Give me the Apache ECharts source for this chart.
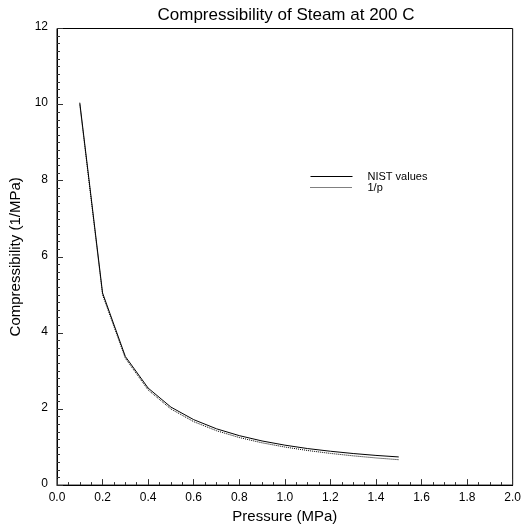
<!DOCTYPE html>
<html><head><meta charset="utf-8">
<script src="https://cdn.jsdelivr.net/npm/echarts@6/dist/echarts.min.js"></script>
<style>html,body{margin:0;padding:0;background:#fff}#c{width:524px;height:529px}</style>
</head><body><div id="c"></div>
<script>
const pressure = [0.1,0.2,0.3,0.4,0.5,0.6,0.7,0.8,0.9,1.0,1.1,1.2,1.3,1.4,1.5];
const nistValues = [10.05,5.05,3.38,2.55,2.05,1.72,1.48,1.30,1.16,1.05,0.96,0.89,0.83,0.78,0.74];
const inverseP = [10.0,5.0,3.333,2.5,2.0,1.667,1.429,1.25,1.111,1.0,0.909,0.833,0.769,0.714,0.667];
const font = 'Liberation Sans, Arial, sans-serif';
const chart = echarts.init(document.getElementById('c'));
chart.setOption({
  animation:false,
  title:{text:'Compressibility of Steam at 200 C',left:281,textAlign:'center',top:2,
    textStyle:{fontFamily:font,fontSize:17,fontWeight:'normal',color:'#000'}},
  grid:{left:57,right:9,top:28.5,bottom:40.5,show:true,borderColor:'#000',borderWidth:1},
  legend:{left:305,top:166,orient:'vertical',itemWidth:42,itemHeight:10,itemGap:0,
    itemStyle:{opacity:0},
    textStyle:{fontFamily:font,fontSize:11,color:'#000',padding:[0,0,0,10],lineHeight:10},
    data:[{name:'NIST values',lineStyle:{width:1,type:'solid',color:'#000'}},
          {name:'1/p',lineStyle:{width:1,type:[1,1],color:'#000'}}]},
  xAxis:{type:'value',min:0,max:2,interval:0.2,
    name:'Pressure (MPa)',nameLocation:'middle',nameGap:22,
    nameTextStyle:{fontFamily:font,fontSize:15,color:'#000'},
    axisLine:{lineStyle:{color:'#000'}},
    axisTick:{inside:true,length:6,lineStyle:{color:'#333'}},
    minorTick:{show:true,splitNumber:4,length:3,lineStyle:{color:'#333'}},
    splitLine:{show:false},
    axisLabel:{fontFamily:font,fontSize:12,color:'#000',margin:7,formatter:v=>v.toFixed(1),showMaxLabel:true}},
  yAxis:{type:'value',min:0,max:12,interval:2,
    name:'Compressibility (1/MPa)',nameLocation:'middle',nameGap:28,
    nameTextStyle:{fontFamily:font,fontSize:15,color:'#000'},
    axisLine:{lineStyle:{color:'#000'}},
    axisTick:{inside:true,length:6,lineStyle:{color:'#333'}},
    minorTick:{show:true,splitNumber:10,length:3,lineStyle:{color:'#333'}},
    splitLine:{show:false},
    axisLabel:{fontFamily:font,fontSize:12,color:'#000',margin:9,verticalAlign:'middle',
      formatter:v=>'{a|'+v+'}',
      rich:{a:{fontFamily:font,fontSize:12,color:'#000',padding:[0,0,3,0]}}}},
  series:[
    {name:'NIST values',type:'line',symbol:'none',data:pressure.map((p,i)=>[p,nistValues[i]]),
      lineStyle:{color:'#000',width:1}, itemStyle:{color:'#000'}},
    {name:'1/p',type:'line',symbol:'none',data:pressure.map((p,i)=>[p,inverseP[i]]),
      lineStyle:{color:'#000',width:1,type:[1,1]}, itemStyle:{color:'#000'}}
  ]
});
</script></body></html>
